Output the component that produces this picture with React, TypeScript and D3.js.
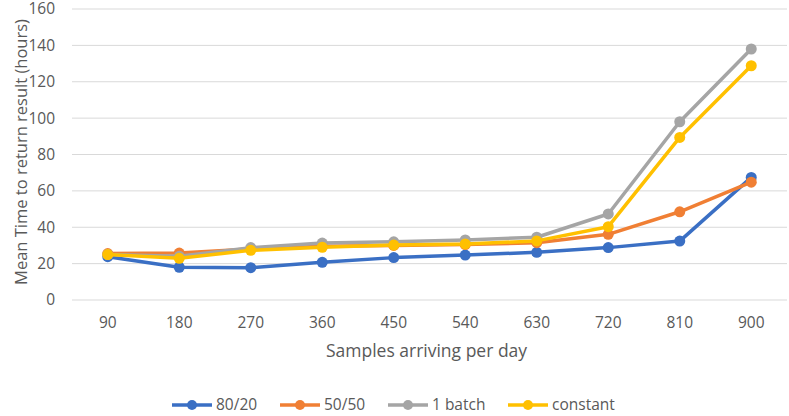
import React, { useRef, useEffect } from 'react';
import * as d3 from 'd3';

const categories = ['90', '180', '270', '360', '450', '540', '630', '720', '810', '900'];
const series8020 = [23.8, 18, 17.8, 20.7, 23.3, 24.7, 26.2, 28.8, 32.4, 67.4];
const series5050 = [25.5, 25.8, 28, 29.5, 30, 30.5, 31.5, 36.1, 48.5, 64.8];
const seriesBatch = [25, 24, 28.8, 31.3, 32, 33, 34.5, 47.3, 98, 138];
const seriesConstant = [25, 22.9, 27.3, 29, 30.2, 30.8, 32.5, 40.3, 89.4, 128.8];
const yTicks = [0, 20, 40, 60, 80, 100, 120, 140, 160];

const seriesList = [
  { name: '80/20', values: series8020, color: '#3a6fc4' },
  { name: '50/50', values: series5050, color: '#f07f34' },
  { name: '1 batch', values: seriesBatch, color: '#a5a5a5' },
  { name: 'constant', values: seriesConstant, color: '#ffc000' },
];

export default function App() {
  const svgRef = useRef<SVGSVGElement>(null);

  useEffect(() => {
    const width = 789;
    const height = 416;
    const margin = { top: 9, right: 2, bottom: 116, left: 72 };
    const innerWidth = width - margin.left - margin.right;
    const innerHeight = height - margin.top - margin.bottom;
    const font = "'Open Sans', sans-serif";
    const textColor = '#595959';

    const svg = d3.select(svgRef.current);
    svg.selectAll('*').remove();

    const g = svg.append('g').attr('transform', `translate(${margin.left},${margin.top})`);

    const x = d3.scaleBand().domain(categories).range([0, innerWidth]);
    const y = d3.scaleLinear().domain([0, 160]).range([innerHeight, 0]);

    // gridlines
    g.append('g')
      .selectAll('line')
      .data(yTicks)
      .enter()
      .append('line')
      .attr('x1', 0)
      .attr('x2', innerWidth)
      .attr('y1', d => y(d))
      .attr('y2', d => y(d))
      .attr('stroke', '#d9d9d9')
      .attr('stroke-width', 1);

    // y labels
    g.append('g')
      .selectAll('text')
      .data(yTicks)
      .enter()
      .append('text')
      .attr('x', -17)
      .attr('y', d => y(d))
      .attr('dy', '0.35em')
      .attr('text-anchor', 'end')
      .attr('fill', textColor)
      .style('font-family', font)
      .style('font-size', '15.5px')
      .text(d => d);

    // x labels
    g.append('g')
      .selectAll('text')
      .data(categories)
      .enter()
      .append('text')
      .attr('x', d => x(d)! + x.bandwidth() / 2)
      .attr('y', innerHeight + 28)
      .attr('text-anchor', 'middle')
      .attr('fill', textColor)
      .style('font-family', font)
      .style('font-size', '15.5px')
      .text(d => d);

    // axis titles
    g.append('text')
      .attr('x', innerWidth / 2 - 3)
      .attr('y', innerHeight + 57)
      .attr('text-anchor', 'middle')
      .attr('fill', textColor)
      .style('font-family', font)
      .style('font-size', '17.5px')
      .text('Samples arriving per day');

    svg.append('text')
      .attr('transform', `translate(27,${152}) rotate(-90)`)
      .attr('text-anchor', 'middle')
      .attr('fill', textColor)
      .style('font-family', font)
      .style('font-size', '16.5px')
      .text('Mean Time to return result (hours)');

    const line = d3.line<number>()
      .x((_, i) => x(categories[i])! + x.bandwidth() / 2)
      .y(d => y(d));

    seriesList.forEach(s => {
      const sg = g.append('g');
      sg.append('path')
        .datum(s.values)
        .attr('d', line)
        .attr('fill', 'none')
        .attr('stroke', s.color)
        .attr('stroke-width', 3.5)
        .attr('stroke-linejoin', 'round');
      sg.selectAll('circle')
        .data(s.values)
        .enter()
        .append('circle')
        .attr('cx', (_, i) => x(categories[i])! + x.bandwidth() / 2)
        .attr('cy', d => y(d))
        .attr('r', 5.5)
        .attr('fill', s.color);
    });

    // legend
    const legendX = [172, 280, 388, 508];
    const legend = svg.append('g').attr('transform', 'translate(0,405)');
    seriesList.forEach((s, i) => {
      const lg = legend.append('g').attr('transform', `translate(${legendX[i]},0)`);
      lg.append('line')
        .attr('x1', 0).attr('x2', 40)
        .attr('y1', 0).attr('y2', 0)
        .attr('stroke', s.color)
        .attr('stroke-width', 3.5);
      lg.append('circle').attr('cx', 20).attr('cy', 0).attr('r', 5).attr('fill', s.color);
      lg.append('text')
        .attr('x', 44)
        .attr('y', 0)
        .attr('dy', '0.35em')
        .attr('fill', textColor)
        .style('font-family', font)
        .style('font-size', '15.5px')
        .text(s.name);
    });
  }, []);

  return (
    <svg
      ref={svgRef}
      width={789}
      height={416}
      viewBox="0 0 789 416"
      style={{ position: 'absolute', left: 0, top: 0, background: '#fff' }}
    />
  );
}
